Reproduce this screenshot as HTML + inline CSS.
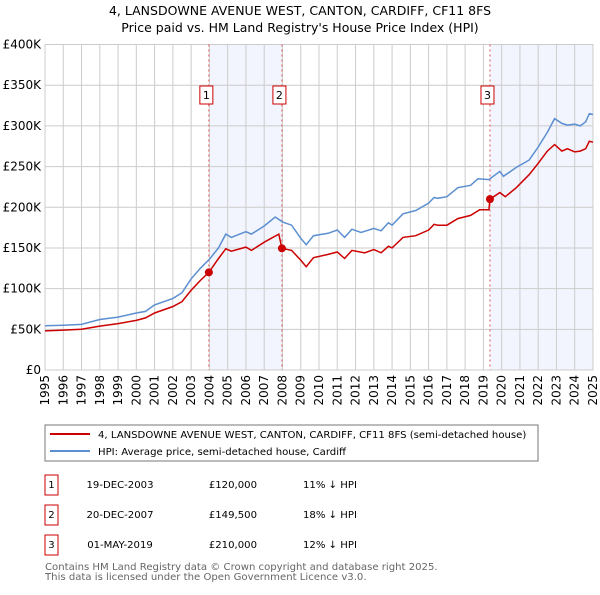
<!DOCTYPE html>
<html><head><meta charset="utf-8"><style>
body{margin:0;background:#fff;font-family:"Liberation Sans","DejaVu Sans",sans-serif;}
svg text{font-family:"DejaVu Sans","Liberation Sans",sans-serif;}
</style></head><body>
<svg id="chart" width="600" height="590" xmlns="http://www.w3.org/2000/svg">
<text x="300" y="15" text-anchor="middle" font-size="12.5">4, LANSDOWNE AVENUE WEST, CANTON, CARDIFF, CF11 8FS</text>
<text x="300" y="32" text-anchor="middle" font-size="12.5">Price paid vs. HM Land Registry's House Price Index (HPI)</text>
<g id="plot"></g>
<rect x="45" y="425" width="493" height="36" fill="#fff" stroke="#777"/>
<line x1="50" y1="434" x2="90" y2="434" stroke="#cc0000" stroke-width="2"/>
<text x="98" y="438" font-size="10.1">4, LANSDOWNE AVENUE WEST, CANTON, CARDIFF, CF11 8FS (semi-detached house)</text>
<line x1="50" y1="451" x2="90" y2="451" stroke="#5b8fd1" stroke-width="2"/>
<text x="98" y="455" font-size="10.1">HPI: Average price, semi-detached house, Cardiff</text>
<g font-size="10.1">
<rect x="45" y="475" width="13" height="20" fill="#fff" stroke="#cc0000"/><text x="51.5" y="488" text-anchor="middle">1</text>
<text x="120" y="488" text-anchor="middle">19-DEC-2003</text><text x="257" y="488" text-anchor="end">£120,000</text><text x="303" y="488">11% ↓ HPI</text>
<rect x="45" y="505" width="13" height="20" fill="#fff" stroke="#cc0000"/><text x="51.5" y="518" text-anchor="middle">2</text>
<text x="120" y="518" text-anchor="middle">20-DEC-2007</text><text x="257" y="518" text-anchor="end">£149,500</text><text x="303" y="518">18% ↓ HPI</text>
<rect x="45" y="535" width="13" height="20" fill="#fff" stroke="#cc0000"/><text x="51.5" y="548" text-anchor="middle">3</text>
<text x="120" y="548" text-anchor="middle">01-MAY-2019</text><text x="257" y="548" text-anchor="end">£210,000</text><text x="303" y="548">12% ↓ HPI</text>
</g>
<text x="45" y="570" font-size="10.1" fill="#666">Contains HM Land Registry data © Crown copyright and database right 2025.</text>
<text x="45" y="580" font-size="10.1" fill="#666">This data is licensed under the Open Government Licence v3.0.</text>
</svg>
<script>
const hpiYears=[1995,1996,1997,1998,1999,2000,2000.5,2001,2002,2002.5,2003,2003.5,2004,2004.5,2004.9,2005.2,2006,2006.3,2007,2007.6,2008,2008.5,2009,2009.3,2009.7,2010.5,2011,2011.4,2011.8,2012.3,2013,2013.4,2013.8,2014,2014.6,2015.3,2016,2016.3,2016.5,2017,2017.6,2018.3,2018.7,2019.3,2019.9,2020.1,2020.8,2021.5,2022,2022.5,2022.9,2023.3,2023.6,2024,2024.3,2024.6,2024.8,2025];
const hpiValues=[54.5,55,56,62,65,70,72,80,88,95,112,125,136,150,167,163,170,167,177,188,182,178,162,154,165,168,172,163,173,169,174,171,181,178,192,196,205,212,211,213,224,227,235,234,244,238,249,258,274,292,309,303,301,302,300,305,315,314];
const priceYears=[1995,1996,1997,1998,1999,2000,2000.5,2001,2002,2002.5,2003,2003.5,2003.97,2004.5,2004.9,2005.2,2006,2006.3,2007,2007.8,2007.97,2008.5,2009,2009.3,2009.7,2010.5,2011,2011.4,2011.8,2012.5,2013,2013.4,2013.8,2014,2014.6,2015.3,2016,2016.3,2016.5,2017,2017.6,2018.3,2018.8,2019.3,2019.36,2019.9,2020.2,2020.8,2021.5,2022,2022.5,2022.9,2023.3,2023.6,2024,2024.3,2024.6,2024.8,2025];
const priceValues=[48,49,50,54,57,61,64,70,78,84,98,110,120,137,149,146,151,147,157,167,149.5,147,135,127,138,142,145,137,147,144,148,144,152,150,163,165,172,179,178,178,186,190,197,197,210,218,213,224,240,254,269,277,269,272,268,269,272,281,280];
const saleLabels=["1","2","3"];
const saleYears=[2003.97,2007.97,2019.36];
const saleValues=[120,149.5,210];
const yTicks=[0,50,100,150,200,250,300,350,400];
const yTickLabels=["£0","£50K","£100K","£150K","£200K","£250K","£300K","£350K","£400K"];
const xTicks=[1995,1996,1997,1998,1999,2000,2001,2002,2003,2004,2005,2006,2007,2008,2009,2010,2011,2012,2013,2014,2015,2016,2017,2018,2019,2020,2021,2022,2023,2024,2025];

const X0=45,X1=593,Y0=370,Y1=44.5;
const xs=y=>X0+(y-1995)/30*(X1-X0);
const ys=v=>Y0-v/400*(Y0-Y1);
const NS="http://www.w3.org/2000/svg";
const g=document.getElementById('plot');
function mk(t,a){const e=document.createElementNS(NS,t);for(const k in a)e.setAttribute(k,a[k]);g.appendChild(e);return e;}
let e;
e=mk('rect',{x:xs(saleYears[0]),y:Y1,width:xs(saleYears[1])-xs(saleYears[0]),height:Y0-Y1,fill:'#f2f5fd'});


e=mk('rect',{x:xs(saleYears[2]),y:Y1,width:X1-xs(saleYears[2]),height:Y0-Y1,fill:'#f2f5fd'});


yTicks.forEach((t,i)=>{
 e=mk('line',{x1:X0,x2:X1,y1:ys(t),y2:ys(t),stroke:'#ccc'});
 
 
 e=mk('text',{x:X0-4,y:ys(t)+4,'text-anchor':'end','font-size':'12'});e.textContent=yTickLabels[i];
 
 
});
xTicks.forEach(t=>{
 e=mk('line',{x1:xs(t),x2:xs(t),y1:Y1,y2:Y0,stroke:'#ccc'});
 
 
 e=mk('text',{x:0,y:0,'text-anchor':'end','font-size':'12',transform:`translate(${xs(t)+4},${Y0+5}) rotate(-90)`});e.textContent=t;
 
 
});
e=mk('rect',{x:X0,y:Y1,width:X1-X0,height:Y0-Y1,fill:'none',stroke:'#ccc'});


saleYears.forEach((s,i)=>{
 e=mk('line',{x1:xs(s),x2:xs(s),y1:Y1,y2:Y0,stroke:'#e05555','stroke-dasharray':'2,3'});
 
 
 e=mk('rect',{x:xs(s)-9,y:86,width:13,height:18,fill:'#fff',stroke:'#cc0000'});
 
 
 e=mk('text',{x:xs(s)-2.5,y:99,'text-anchor':'middle','font-size':'11'});e.textContent=saleLabels[i];
 
 
});
const pts=(a,b)=>a.map((y,i)=>xs(y).toFixed(1)+','+ys(b[i]).toFixed(1)).join(' ');
e=mk('polyline',{points:pts(hpiYears,hpiValues),fill:'none',stroke:'#5b8fd1','stroke-width':1.5});


e=mk('polyline',{points:pts(priceYears,priceValues),fill:'none',stroke:'#cc0000','stroke-width':1.5});


saleYears.forEach((s,i)=>{
 e=mk('circle',{cx:xs(s),cy:ys(saleValues[i]),r:4,fill:'#cc0000'});
 
 
});
</script>
</body></html>
